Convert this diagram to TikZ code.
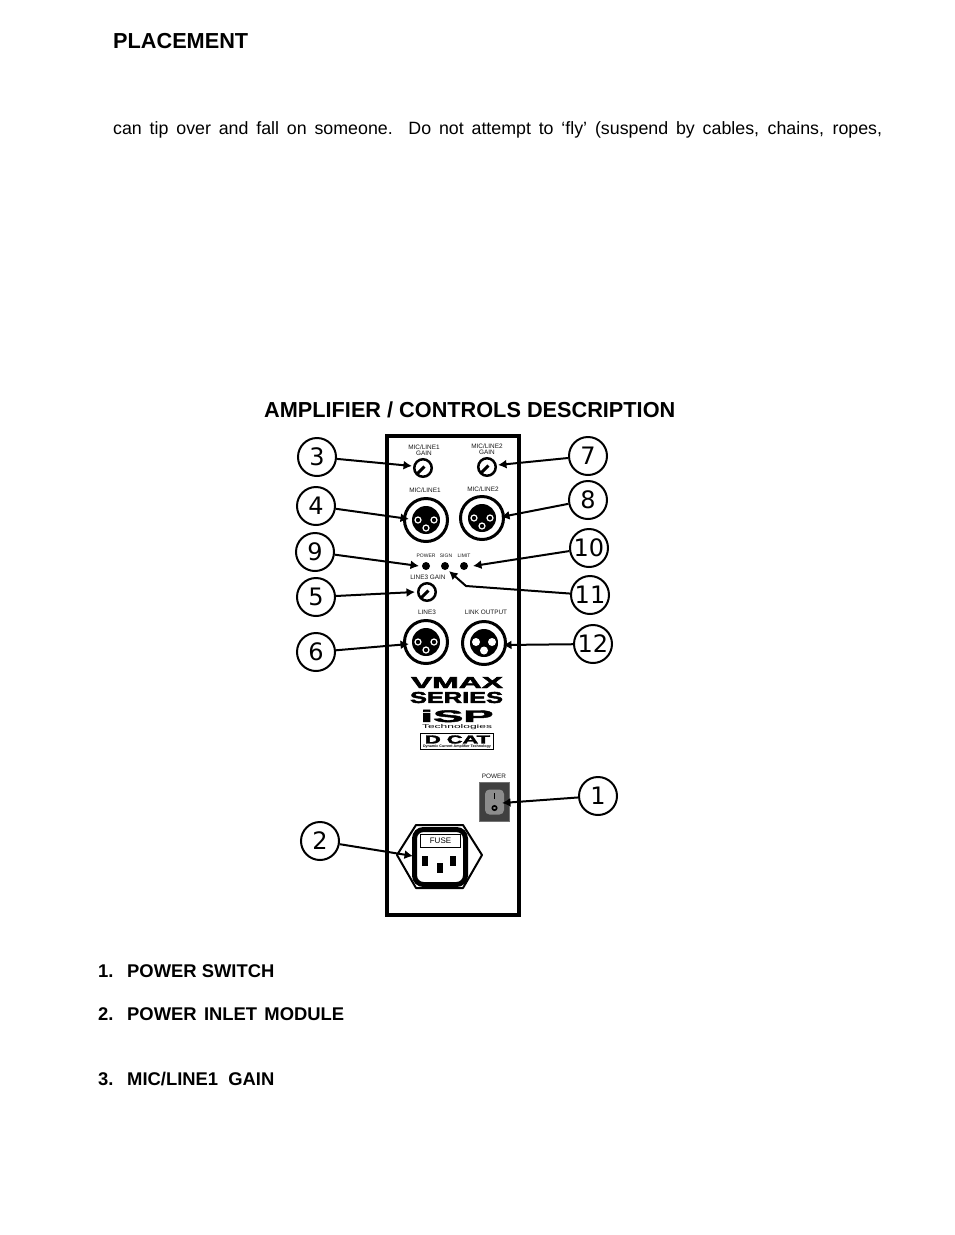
\documentclass[tikz,border=0pt]{standalone}
\usepackage{graphicx}
\usepackage{fontspec}
\setmainfont{Liberation Sans}
\newfontfamily\heavyfont[BoldFeatures={FakeBold=2.5}]{Liberation Sans}
\newfontfamily\calloutfont{DejaVu Sans}
\usetikzlibrary{arrows.meta}
\definecolor{panelgray}{gray}{0.55}
\tikzset{
  x=1pt,y=-1pt,
  callout/.style={circle,draw=black,line width=2pt,fill=white,minimum size=38pt,inner sep=0pt,font=\calloutfont\fontsize{24}{24}\selectfont},
  leader/.style={line width=2pt,-{Latex[length=8.5pt,width=9pt]}},
  lbl/.style={inner sep=0pt,font=\fontsize{6.4}{6.4}\selectfont,text=black!90,align=center},
  smalllbl/.style={lbl,font=\fontsize{5}{5}\selectfont},
  heading/.style={inner sep=0pt,anchor=base west,font=\bfseries\fontsize{21.7}{21.7}\selectfont},
  listitem/.style={inner sep=0pt,anchor=base west,font=\bfseries\fontsize{18.4}{18.4}\selectfont},
  body/.style={inner sep=0pt,anchor=base west,font=\fontsize{17.8}{17.8}\selectfont},
  ledspot/.style={circle,fill=black,minimum size=8pt,inner sep=0pt},
}
\newcommand{\knob}[3]{%
  \node[circle,draw=black,line width=2.5pt,minimum size=17.5pt,inner sep=0pt] (#1) at (#2,#3) {};
  \draw[line width=3pt] (#2-6,#3+6) -- (#2+1.5,#3-1.5);
}
\newcommand{\xlr}[4]{%
  \node[circle,draw=black,line width=3pt,minimum size=43pt,inner sep=0pt] (#1) at (#2,#3) {};
  \fill (#2,#3) circle (14);
  \ifnum#4=1
    \foreach \dx/\dy in {-8/0,8/0,0/8.5}{\fill[white] (#2+\dx,#3+\dy-1) circle (4);}
  \else
    \foreach \dx/\dy in {-8/0,8/0,0/8}{\draw[white,line width=1.2pt] (#2+\dx,#3+\dy) circle (3);}
  \fi
}
\begin{document}
\begin{tikzpicture}
\useasboundingbox (0,0) rectangle (954,1235);
\fill[white] (0,0) rectangle (954,1235);

\node[heading] (title) at (113,48) {PLACEMENT};
\node[body] (para) at (113,134) {\makebox[769pt][s]{can tip over and fall on someone.\ \ Do not attempt to ‘fly’ (suspend by cables, chains, ropes,}};
\node[heading] (sect) at (264,417) {AMPLIFIER / CONTROLS DESCRIPTION};
\node[listitem] (li1) at (98,977) {\makebox[29pt][l]{1.}POWER SWITCH};
\node[listitem] (li2) at (98,1020) {\makebox[29pt][l]{2.}\makebox[217pt][s]{POWER INLET MODULE}};
\node[listitem] (li3) at (98,1085) {\makebox[29pt][l]{3.}MIC/LINE1\ \ GAIN};

% panel
\node[draw=black,line width=4pt,minimum width=132pt,minimum height=479pt,inner sep=0pt] (panel) at (453,675.5) {};

\node[lbl] (t1) at (424,450) {MIC/LINE1\\[-0.5pt]GAIN};
\node[lbl] (t2) at (487,449) {MIC/LINE2\\[-0.5pt]GAIN};
\node[lbl] (t3) at (425,490) {MIC/LINE1};
\node[lbl] (t4) at (483,489) {MIC/LINE2};
\node[smalllbl] (t5) at (426,555.5) {POWER};
\node[smalllbl] (t6) at (446,555.5) {SIGN};
\node[smalllbl] (t7) at (464,555.5) {LIMIT};
\node[lbl] (t8) at (428,577) {LINE3 GAIN};
\node[lbl] (t9) at (427,612) {LINE3};
\node[lbl] (t10) at (486,612) {LINK OUTPUT};
\node[lbl] (t11) at (494,776) {POWER};

\knob{k3}{423}{468}
\knob{k7}{487}{467}
\knob{k5}{427}{592}
\xlr{x4}{426}{520}{0}
\xlr{x8}{482}{518}{0}
\xlr{x6}{426}{642}{0}
\xlr{x12}{484}{643}{1}

\node[ledspot] (led1) at (426,566) {};
\node[ledspot] (led2) at (445,566) {};
\node[ledspot] (led3) at (464,566) {};

% logos
\node[inner sep=0pt] (vmax) at (457,682.5) {\resizebox{92pt}{11pt}{\heavyfont\bfseries VMAX}};
\node[inner sep=0pt] (series) at (456.5,697.5) {\resizebox{93pt}{11pt}{\heavyfont\bfseries SERIES}};
\node[inner sep=0pt] (isp) at (457,716) {\resizebox{73pt}{12pt}{\heavyfont\bfseries iSP}};
\node[inner sep=0pt] (tech) at (457,727) {\resizebox{70pt}{4pt}{\fontsize{6}{6}\selectfont Technologies}};
\node[draw=black,line width=1.3pt,minimum width=73pt,minimum height=16pt,inner sep=0pt] (dcatbox) at (457,741.5) {};
\node[inner sep=0pt] (dcat) at (457.5,739.5) {\resizebox{65pt}{8pt}{\heavyfont\bfseries D CAT}};
\node[inner sep=0pt] (dcats) at (457,746.8) {\resizebox{68pt}{2.6pt}{\bfseries\fontsize{3.6}{3.6}\selectfont Dynamic Current Amplifier Technology}};

% power switch
\node[draw=black!55,fill=black!75,line width=1.2pt,minimum width=30pt,minimum height=39pt,inner sep=0pt] (sw) at (494.5,802) {};
\node[fill=panelgray,rounded corners=4.5pt,minimum width=19pt,minimum height=25pt,inner sep=0pt] (rocker) at (494.5,802) {};
\draw[line width=1.6pt] (494.5,793) -- (494.5,799);
\draw[line width=1.6pt] (494.5,808) circle (2.2);

% inlet
\draw[line width=2pt,line join=round,fill=white] (416,825) -- (463,825) -- (482,855) -- (463,888) -- (416,888) -- (397,855) -- cycle;
\node[draw=black,fill=white,line width=5pt,rounded corners=9pt,minimum width=51pt,minimum height=55pt,inner sep=0pt] (inlet) at (440,857) {};
\node[draw=black,fill=white,line width=1.2pt,minimum width=40pt,minimum height=13pt,inner sep=0pt,font=\fontsize{8}{8}\selectfont] (fuse) at (440.5,841) {FUSE};
\fill (422,856) rectangle (428,866);
\fill (450,856) rectangle (456,866);
\fill (437,863) rectangle (443,873);

% callouts
\node[callout] (c3) at (317,457) {3};
\node[callout] (c7) at (588,456) {7};
\node[callout] (c4) at (316,506) {4};
\node[callout] (c8) at (588,500) {8};
\node[callout] (c9) at (315,552) {9};
\node[callout] (c10) at (589,548) {10};
\node[callout] (c5) at (316,597) {5};
\node[callout] (c11) at (590,595) {11};
\node[callout] (c6) at (316,652) {6};
\node[callout] (c12) at (593,644) {12};
\node[callout] (c1) at (598,796) {1};
\node[callout] (c2) at (320,841) {2};

% connector targets
\coordinate (a3) at (412,466);
\coordinate (a7) at (498,465);
\coordinate (a4) at (409,519);
\coordinate (a8) at (501,517);
\coordinate (a9) at (419,566);
\coordinate (a10) at (473,566);
\coordinate (a5) at (415,592);
\coordinate (a11) at (449,571);
\coordinate (b11) at (466,586);
\coordinate (a6) at (409,644);
\coordinate (a12) at (503,645);
\coordinate (a1) at (502,803);
\coordinate (a2) at (413,856);

\draw[leader] (c3) -- (a3);
\draw[leader] (c7) -- (a7);
\draw[leader] (c4) -- (a4);
\draw[leader] (c8) -- (a8);
\draw[leader] (c9) -- (a9);
\draw[leader] (c10) -- (a10);
\draw[leader] (c5) -- (a5);
\draw[leader] (c11) -- (b11) -- (a11);
\draw[leader] (c6) -- (a6);
\draw[leader] (c12) -- (a12);
\draw[leader] (c1) -- (a1);
\draw[leader] (c2) -- (a2);
\end{tikzpicture}
\end{document}
